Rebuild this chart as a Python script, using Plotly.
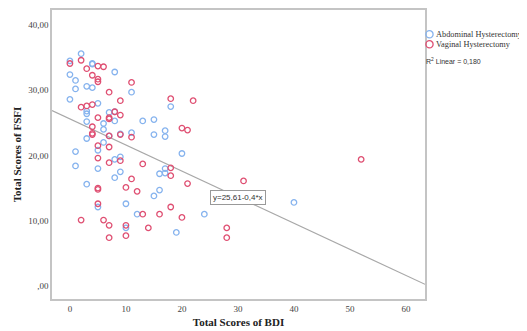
import plotly.graph_objects as go

# Abdominal Hysterectomy (BDI, FSFI)
abd_bdi = [0, 2, 0, 1, 1, 0, 4, 4, 3, 4, 5, 8, 11, 3, 3, 3, 3, 6, 6, 6, 7, 8, 8, 5, 1, 9, 11, 13, 15, 15,
           17, 17, 18, 20, 9, 1, 5, 8, 9, 8, 3, 15, 16, 17, 16, 17, 5, 10, 12, 10, 19, 24, 40, 7]
abd_fsfi = [34.5, 35.6, 32.4, 31.5, 30.2, 28.6, 34.1, 34.0, 30.6, 30.4, 28.0, 32.8, 29.7, 26.8, 26.4, 25.2,
            22.6, 24.9, 24.0, 22.0, 26.6, 26.7, 25.3, 20.8, 20.6, 23.3, 23.5, 25.3, 25.5, 23.2,
            23.8, 22.9, 27.5, 20.3, 19.8, 18.4, 18.0, 19.4, 17.5, 16.6, 15.6, 13.8, 14.7, 18.0, 17.2, 17.3,
            12.1, 12.6, 11.0, 8.9, 8.2, 11.0, 12.8, 23.0]

# Vaginal Hysterectomy (BDI, FSFI)
vag_bdi = [0, 2, 3, 5, 6, 4, 5, 5, 11, 7, 9, 2, 3, 4, 5, 7, 7, 9, 8, 4, 4, 4, 7, 9, 11, 5, 7, 18, 22, 20,
           21, 5, 7, 9, 13, 11, 5, 5, 10, 12, 18, 18, 21, 31, 52, 5, 13, 16, 18, 20, 2, 6, 7, 10, 14, 7, 10, 28, 28]
vag_fsfi = [34.1, 34.6, 33.3, 33.7, 33.6, 32.3, 31.7, 31.3, 31.2, 29.7, 28.4, 27.4, 27.6, 27.8, 25.8, 25.8,
            25.6, 26.2, 26.7, 24.4, 23.4, 23.2, 23.0, 23.2, 22.8, 21.5, 21.3, 28.7, 28.4, 24.2,
            23.9, 19.6, 18.9, 19.2, 18.7, 16.4, 15.0, 14.8, 15.1, 14.5, 18.1, 16.9, 15.7, 16.1, 19.4,
            12.6, 11.0, 11.0, 12.1, 10.5, 10.1, 10.1, 9.3, 9.3, 8.9, 7.4, 7.7, 8.9, 7.4]

series_names = ["Abdominal Hysterectomy", "Vaginal Hysterectomy"]
series_colors = ["#86b3ee", "#df4f72"]

fit_intercept = 25.61
fit_slope = -0.4
fit_label = "y=25,61-0,4*x"
r2_label = "R<sup>2</sup> Linear = 0,180"
x_range = [-3.2, 63.4]
y_range = [-2.0, 42.3]

y_tickvals = [0, 10, 20, 30, 40]
y_ticktext = [",00", "10,00", "20,00", "30,00", "40,00"]
x_tickvals = [0, 10, 20, 30, 40, 50, 60]

# the page body has an 8px margin; the figure is sized so the plot area lands at page 52..425 x 10..299
OFF = 8
W, H = 527 - OFF, 331 - OFF
L, R, T, B = 52 - OFF, 102, 10 - OFF, 32
PW, PH = W - L - R, H - T - B


def px(xp):
    return (xp - OFF - L) / PW


def py(yp):
    return 1 - (yp - OFF - T) / PH


fig = go.Figure()

fit_x = x_range
fit_y = [fit_intercept + fit_slope * v for v in fit_x]
fig.add_trace(go.Scatter(x=fit_x, y=fit_y, mode="lines", line=dict(color="#a8a8a8", width=1.2),
                         showlegend=False, hoverinfo="skip"))

for bx, fy, name, col in [(abd_bdi, abd_fsfi, series_names[0], series_colors[0]),
                          (vag_bdi, vag_fsfi, series_names[1], series_colors[1])]:
    fig.add_trace(go.Scatter(x=bx, y=fy, mode="markers", name=name, showlegend=False,
                             marker=dict(symbol="circle-open", size=5.5, color=col, line=dict(width=1.3))))

fig.add_annotation(x=30, y=13.6, xref="x", yref="y", text=fit_label, showarrow=False,
                   font=dict(family="Liberation Sans", size=8, color="#333"),
                   bgcolor="white", bordercolor="#999", borderwidth=1, borderpad=2)

# custom legend
for i, (name, col) in enumerate(zip(series_names, series_colors)):
    cy = 34.3 + 10 * i
    fig.add_shape(type="circle", xref="paper", yref="paper",
                  x0=px(429.5 - 3.6), x1=px(429.5 + 3.6), y0=py(cy + 3.6), y1=py(cy - 3.6),
                  line=dict(color=col, width=1.3), fillcolor="rgba(0,0,0,0)")
    fig.add_annotation(x=px(434.5), y=py(cy), xref="paper", yref="paper", text=name, showarrow=False,
                       xanchor="left", yanchor="middle",
                       font=dict(family="Liberation Serif", size=8.3, color="#333"))

fig.add_annotation(x=px(424), y=py(61), xref="paper", yref="paper", text=r2_label, showarrow=False,
                   xanchor="left", yanchor="middle",
                   font=dict(family="Liberation Sans", size=7, color="#333"))

axis_common = dict(showgrid=False, zeroline=False, showline=True, linecolor="#c4c4c4", linewidth=1.5,
                   mirror=True, ticks="", tickfont=dict(family="Liberation Serif", size=9, color="#444"))

fig.update_xaxes(range=x_range, tickvals=x_tickvals, **axis_common,
                 title=dict(text="<b>Total Scores of BDI</b>", standoff=6,
                            font=dict(family="Liberation Serif", size=11, color="#222")))
fig.update_yaxes(range=y_range, tickvals=y_tickvals, ticktext=y_ticktext, **axis_common,
                 title=dict(text="<b>Total Scores of FSFI</b>", standoff=4,
                            font=dict(family="Liberation Serif", size=11, color="#222")))

fig.update_layout(
    width=W, height=H,
    margin=dict(l=L, r=R, t=T, b=B, autoexpand=False),
    paper_bgcolor="white", plot_bgcolor="white",
    showlegend=False,
)

fig.write_html("out.html")
